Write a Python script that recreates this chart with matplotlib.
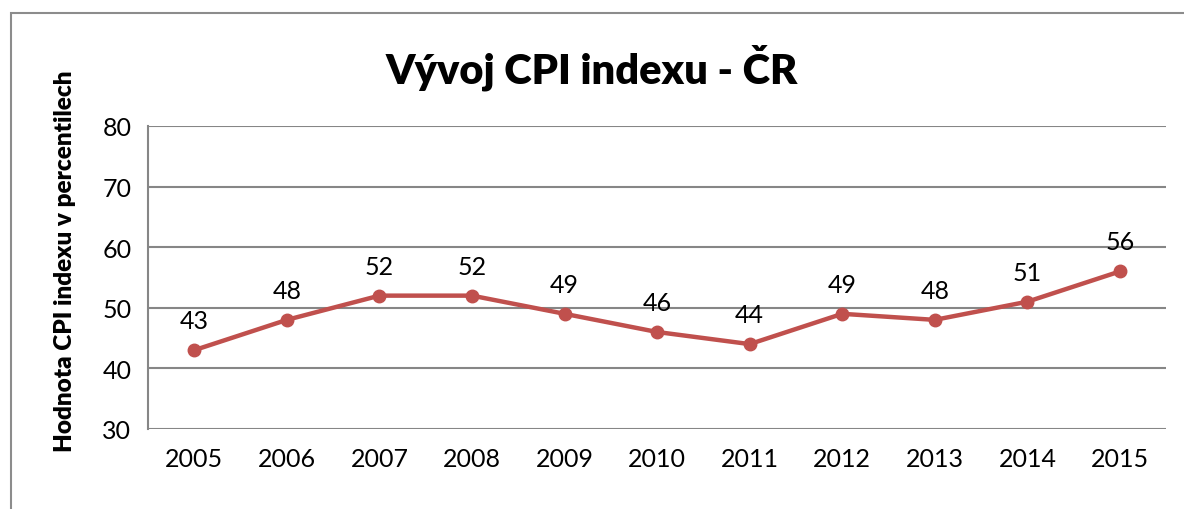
import matplotlib
matplotlib.use("Agg")
import matplotlib.pyplot as plt
from matplotlib.patches import Rectangle

years = ["2005", "2006", "2007", "2008", "2009", "2010", "2011", "2012", "2013", "2014", "2015"]
cpi = [43, 48, 52, 52, 49, 46, 44, 49, 48, 51, 56]
y_ticks = [30, 40, 50, 60, 70, 80]

plt.rcParams['font.family'] = ['Lato', 'DejaVu Sans']

fig = plt.figure(figsize=(11.84, 5.10), dpi=100)
ax = fig.add_axes([0.125, 0.157, 0.860, 0.594])

# outer chart frame (runs off the right/bottom edge like the original)
fig.patches.append(Rectangle((11 / 1184, -0.1), 1.2, 1.1 - 14 / 510,
                             transform=fig.transFigure, fill=False,
                             edgecolor='#8c8c8c', linewidth=1.5, clip_on=False))

x = list(range(len(years)))
ax.plot(x, cpi, color='#C0504D', linewidth=3.2, marker='o', markersize=9, zorder=3)
for xi, v in zip(x, cpi):
    ax.annotate(str(v), (xi, v), xytext=(0, 13), textcoords='offset points',
                ha='center', va='bottom', fontsize=18)

ax.set_xlim(-0.5, len(years) - 0.5)
ax.set_ylim(30, 80)
ax.set_yticks(y_ticks)
ax.set_xticks(x)
ax.set_xticklabels(years)
ax.tick_params(axis='both', length=0, labelsize=18)
ax.tick_params(axis='x', pad=13)
ax.tick_params(axis='y', pad=12)
ax.grid(axis='y', color='#868686', linewidth=1.5)
ax.set_axisbelow(True)
for s in ['top', 'right', 'bottom']:
    ax.spines[s].set_visible(False)
ax.spines['left'].set_color('#868686')
ax.spines['left'].set_linewidth(1.5)

fig.text(65 / 1184, 1 - 261 / 510, "Hodnota CPI indexu v percentilech", rotation=90,
         ha='center', va='center', fontsize=17.5, fontweight='heavy')
fig.text(0.5, 1 - 68 / 510, "Vývoj CPI indexu - ČR", ha='center', va='center',
         fontsize=30, fontweight='heavy')

fig.savefig("out.png", dpi=100)
